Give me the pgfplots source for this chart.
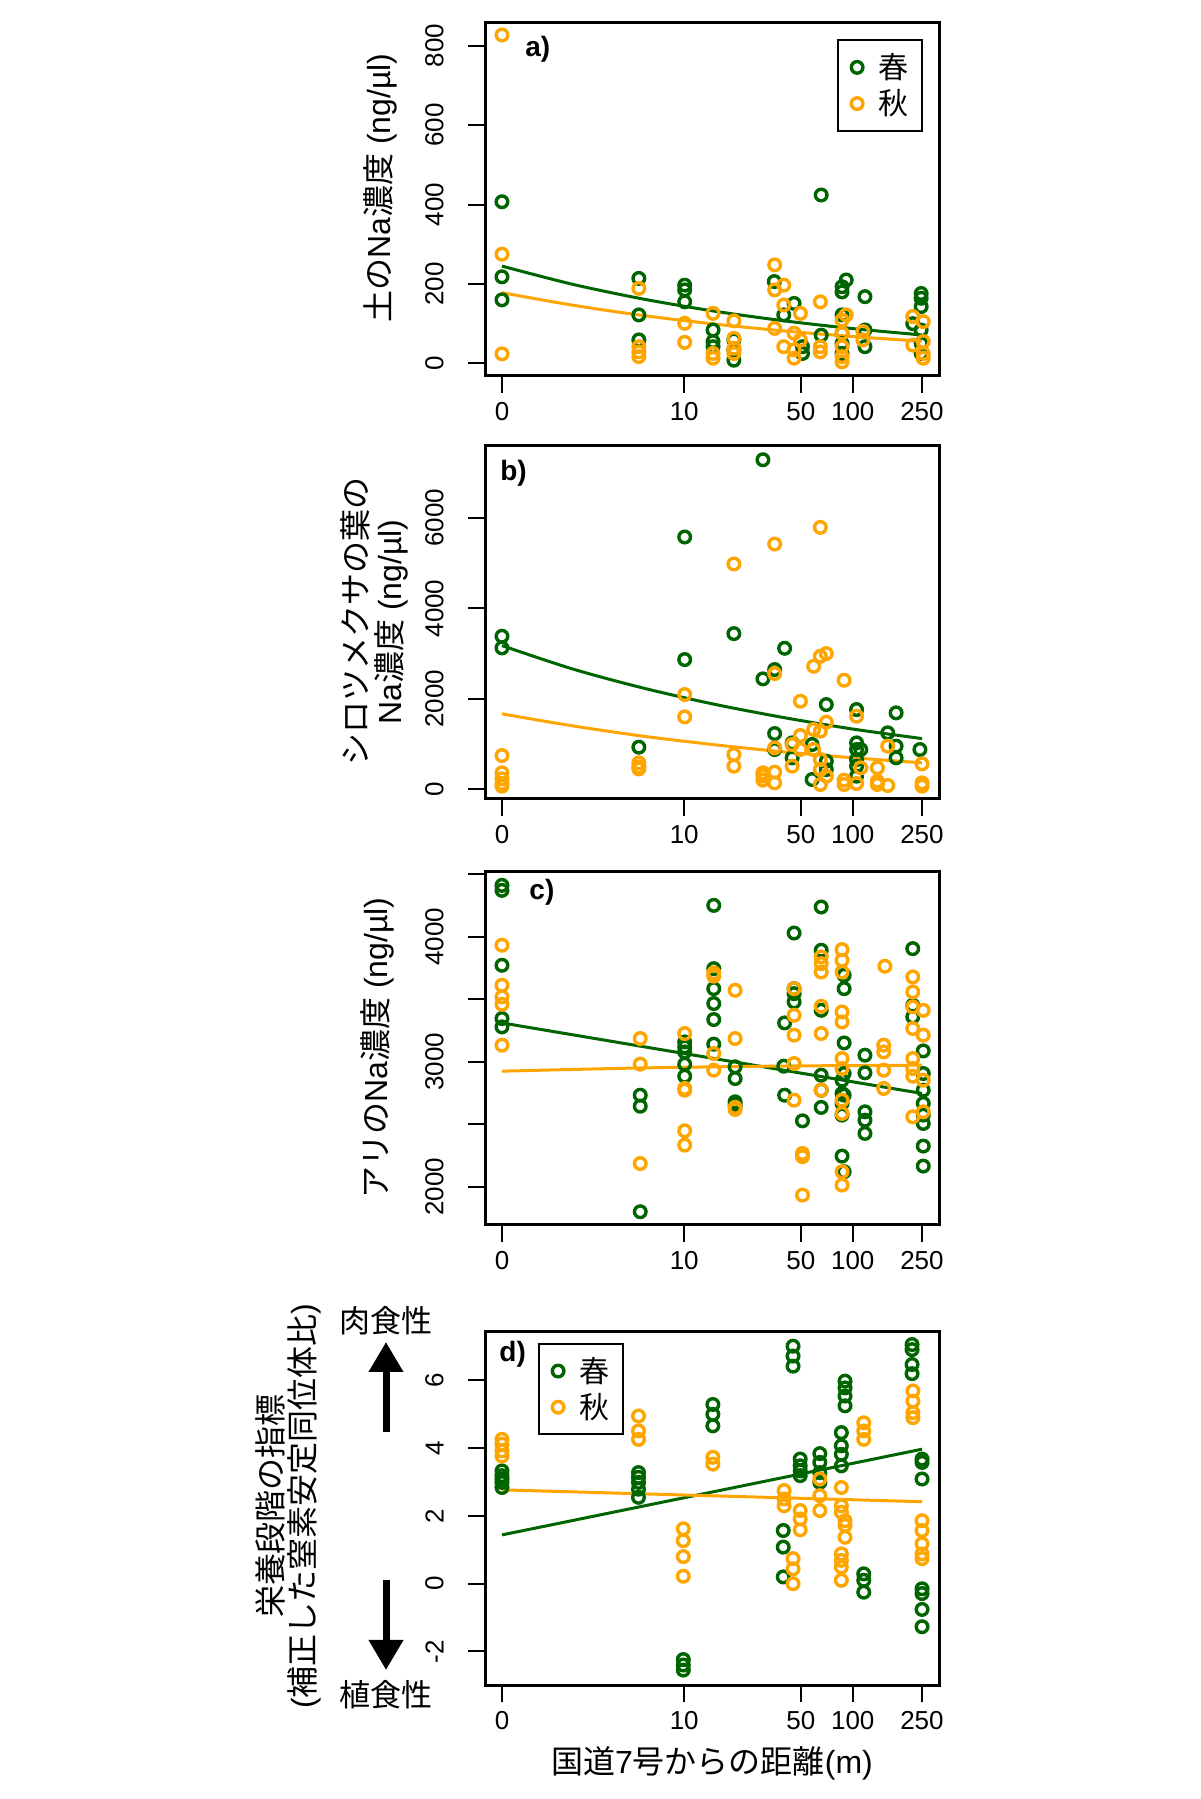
\documentclass[border=0pt]{standalone}
\usepackage{pgfplots}
\pgfplotsset{compat=1.18}
\usepackage{fontspec}
\setmainfont{Liberation Sans}
\newfontfamily\jp{Noto Sans CJK JP}
\usetikzlibrary{arrows.meta}
\definecolor{sp}{RGB}{0,100,0}
\definecolor{au}{RGB}{255,165,0}
\pgfplotsset{
  myax/.style={
    scale only axis, width=227pt, height=176.5pt, anchor=south west,
    xmin=-0.097, xmax=2.497,
    xtick={0,1.0414,1.7076,2.0043,2.3997},
    xticklabels={0,10,50,100,250},
    tick pos=left, tick align=outside, major tick length=8.5pt,
    tick style={line width=1pt, black},
    axis line style={line width=1.5pt},
    every tick label/.append style={font=\fontsize{13}{13}\selectfont},
    xticklabel style={anchor=north, inner sep=0pt, yshift=-4.5pt},
    yticklabel style={xshift=-12pt, rotate=90, anchor=south, inner sep=0pt},
    legend style={draw=black, line width=1pt, inner xsep=5pt, inner ysep=4.5pt,
      font=\fontsize{15}{15}\selectfont\jp, nodes={inner sep=2pt},
      /tikz/every even column/.append style={column sep=1pt}},
    legend cell align=left,
    legend image code/.code={\path (-4pt,0pt) (8pt,0pt); \draw[#1, only marks] plot coordinates {(0pt,0pt)};},
  },
  spm/.style={only marks, mark=o, mark size=2.9pt, color=sp, mark options={line width=1.7pt}},
  aum/.style={only marks, mark=o, mark size=2.9pt, color=au, mark options={line width=1.7pt}},
  spl/.style={no marks, color=sp, line width=1.5pt, forget plot},
  aul/.style={no marks, color=au, line width=1.5pt, forget plot},
}
\begin{document}
\begin{tikzpicture}
\path[use as bounding box] (0,0) rectangle (600pt,899.5pt);
% ---------------- a ----------------
\begin{axis}[myax, at={(242.5pt,711.65pt)},
  ymin=-31, ymax=858, ytick={0,200,400,600,800}, yticklabels={0,200,400,600,800},
  legend style={at={(0.965,0.953)}, anchor=north east}]
\addplot[spm] coordinates {
(0,407)(0,218)(0,160)
(0.782,214)(0.782,122)(0.782,59)
(1.044,197)(1.044,185)(1.044,155)
(1.206,84)(1.206,55)(1.206,42)
(1.325,59)(1.325,34)(1.325,8)
(1.556,206)
(1.669,151)(1.610,122)(1.717,42)(1.717,25)
(1.824,424)(1.824,71)
(1.943,193)(1.943,180)(1.943,122)(1.943,76)(1.943,50)(1.943,25)
(1.967,210)
(2.074,168)(2.074,84)(2.074,42)
(2.395,176)(2.395,164)(2.395,143)(2.395,84)(2.395,50)(2.395,25)
(2.347,100)};
\addlegendentry{春}
\addplot[aum] coordinates {
(0,827)(0,275)(0,24)
(0.782,189)(0.782,42)(0.782,29)(0.782,17)
(1.044,101)(1.044,53)
(1.206,126)(1.206,25)(1.206,13)
(1.325,107)(1.325,63)(1.325,38)(1.325,25)
(1.558,248)(1.558,185)(1.558,88)
(1.610,197)(1.610,147)(1.610,42)
(1.669,76)(1.669,34)(1.669,13)
(1.705,126)(1.705,59)
(1.819,155)(1.819,42)(1.819,29)
(1.943,109)(1.943,76)(1.943,42)(1.943,17)(1.943,4)(1.967,122)
(2.062,80)(2.062,59)
(2.347,118)(2.347,46)
(2.407,105)(2.407,55)(2.407,25)(2.407,13)};
\addlegendentry{秋}
\addplot[spl, smooth] coordinates {(0,245)(0.4,199.5)(0.8,162.6)(1.2,132.4)(1.6,107.8)(2.0,87.8)(2.4,71.5)};
\addplot[aul, smooth] coordinates {(0,178)(0.4,146.8)(0.8,120.9)(1.2,99.7)(1.6,82.2)(2.0,67.7)(2.4,55.8)};
\node[anchor=west, font=\fontsize{14}{14}\selectfont\bfseries, inner sep=0pt] at (rel axis cs:0.088,0.924) {a)};
\end{axis}
% ---------------- b ----------------
\begin{axis}[myax, at={(242.5pt,500pt)},
  ymin=-210, ymax=7590, ytick={0,2000,4000,6000}, yticklabels={0,2000,4000,6000}]
\addplot[spm] coordinates {
(0,3386)(0,3128)
(0.782,935)
(1.044,5579)(1.044,2870)
(1.325,3444)
(1.491,7286)(1.491,2444)
(1.558,2650)(1.558,1236)(1.558,883)
(1.615,3120)
(1.658,1030)(1.658,700)
(1.772,220)(1.772,994)
(1.853,1877)(1.853,625)(1.853,440)
(2.026,1766)(2.026,1030)(2.026,883)(2.026,662)(2.026,515)(2.026,294)
(2.050,883)
(2.204,1251)
(2.252,1693)(2.252,957)(2.252,700)
(2.388,883)};
\addplot[aum] coordinates {
(0,750)(0,368)(0,235)(0,132)(0,74)
(0.782,589)(0.782,500)(0.782,456)
(1.044,2098)(1.044,1604)
(1.325,4983)(1.325,773)(1.325,515)
(1.491,368)(1.491,294)(1.491,206)
(1.558,5424)(1.558,2561)(1.558,383)(1.558,147)(1.558,920)
(1.658,515)(1.658,994)
(1.705,1950)(1.705,1192)(1.705,883)
(1.781,2723)(1.781,1325)(1.781,883)
(1.819,5792)(1.819,2944)(1.819,1288)(1.819,662)(1.819,440)(1.819,110)
(1.853,3003)(1.853,1487)(1.853,294)
(1.955,2414)(1.955,206)(1.955,110)
(2.026,1619)(2.026,132)
(2.050,478)
(2.145,478)(2.145,184)(2.145,110)
(2.204,957)(2.204,88)
(2.400,567)(2.400,147)(2.400,74)};
\addplot[spl, smooth] coordinates {(0,3180)(0.4,2667)(0.8,2248)(1.2,1894)(1.6,1596)(2.0,1338)(2.4,1125)};
\addplot[aul, smooth] coordinates {(0,1671)(0.4,1408)(0.8,1181)(1.2,995)(1.6,834)(2.0,702)(2.4,590)};
\node[anchor=west, font=\fontsize{14}{14}\selectfont\bfseries, inner sep=0pt] at (rel axis cs:0.033,0.924) {b)};
\end{axis}
% ---------------- c ----------------
\begin{axis}[myax, at={(242.5pt,287pt)},
  ymin=1694, ymax=4517, ytick={2000,2500,3000,3500,4000,4500}, yticklabels={2000,,3000,,4000,}]
\addplot[spm] coordinates {
(0,4410)(0,4370)(0,3771)(0,3345)(0,3278)
(0.790,2732)(0.790,2644)(0.790,1800)
(1.044,3158)(1.044,3118)(1.044,3078)(1.044,2980)(1.044,2884)
(1.210,4250)(1.210,3744)(1.210,3584)(1.210,3465)(1.210,3337)(1.210,3140)
(1.332,2959)(1.332,2865)(1.332,2679)(1.332,2652)
(1.615,3310)(1.615,2732)(1.610,2964)
(1.669,4029)(1.669,3584)(1.669,3544)(1.669,3478)
(1.717,2527)
(1.824,4237)(1.824,3891)(1.824,3411)(1.824,2892)(1.824,2772)(1.824,2634)
(1.955,3691)(1.955,3584)(1.955,3150)(1.943,2852)(1.943,2746)(1.943,2666)(1.943,2573)(1.943,2245)(1.955,2120)(1.955,2905)(1.955,2732)
(2.074,3052)(2.074,2911)(2.074,2599)(2.074,2532)(2.074,2426)
(2.347,3904)(2.347,3451)(2.347,3358)
(2.407,3086)(2.407,2905)(2.407,2772)(2.407,2666)(2.407,2573)(2.407,2506)(2.407,2325)(2.407,2165)};
\addplot[aum] coordinates {
(0,3931)(0,3611)(0,3518)(0,3459)(0,3132)
(0.790,3185)(0.790,2980)(0.790,2186)
(1.044,3225)(1.044,2786)(1.044,2772)(1.044,2447)(1.044,2333)
(1.210,3710)(1.210,3684)(1.210,3065)(1.210,2932)
(1.332,3571)(1.332,3185)(1.332,2634)(1.332,2618)
(1.669,3584)(1.669,3371)(1.669,3212)(1.669,2985)(1.669,2692)
(1.717,2266)(1.717,2240)(1.717,1933)
(1.824,3838)(1.824,3784)(1.824,3717)(1.824,3443)(1.824,3225)(1.824,2772)
(1.943,3896)(1.943,3811)(1.943,3717)(1.943,3318)(1.943,3025)(1.943,2945)(1.943,2586)(1.943,2120)(1.943,2013)(1.943,3398)(1.943,2692)
(2.188,3763)(2.181,3132)(2.181,3078)(2.181,2932)(2.181,2786)
(2.347,3678)(2.347,3558)(2.347,3438)(2.347,3265)(2.347,3025)(2.347,2945)(2.347,2884)(2.347,2559)
(2.407,3411)(2.407,3212)(2.407,2852)(2.407,2599)};
\addplot[spl] coordinates {(0,3310)(1.2,3028)(2.4,2746)};
\addplot[aul, smooth] coordinates {(0,2924)(0.8,2950)(1.6,2965)(2.4,2972)};
\node[anchor=west, font=\fontsize{14}{14}\selectfont\bfseries, inner sep=0pt] at (rel axis cs:0.097,0.943) {c)};
\end{axis}
% ---------------- d ----------------
\begin{axis}[myax, at={(242.5pt,57pt)},
  ymin=-2.99, ymax=7.43, ytick={-2,0,2,4,6}, yticklabels={-2,0,2,4,6},
  legend style={at={(0.117,0.969)}, anchor=north west}]
\addplot[spm] coordinates {
(0,3.33)(0,3.19)(0,3.09)(0,2.99)(0,2.84)
(0.780,3.28)(0.780,3.14)(0.780,2.99)(0.780,2.79)(0.780,2.55)
(1.036,-2.24)(1.036,-2.40)(1.036,-2.55)
(1.205,5.29)(1.205,5.00)(1.205,4.66)
(1.607,1.57)(1.607,1.08)(1.607,0.20)
(1.663,7.01)(1.663,6.72)(1.663,6.42)
(1.704,3.68)(1.704,3.48)(1.704,3.33)(1.704,3.19)
(1.816,3.84)(1.816,3.58)(1.816,3.28)(1.816,2.99)
(1.939,4.46)(1.939,4.07)(1.939,3.82)(1.939,3.48)
(1.960,5.98)(1.960,5.78)(1.960,5.54)(1.960,5.25)
(2.067,0.29)(2.067,0.10)(2.067,-0.25)
(2.343,7.06)(2.343,6.91)(2.343,6.47)(2.343,6.20)
(2.400,3.68)(2.400,3.58)(2.400,3.09)(2.400,-0.15)(2.400,-0.29)(2.400,-0.76)(2.400,-1.27)};
\addlegendentry{春}
\addplot[aum] coordinates {
(0,4.26)(0,4.12)(0,3.92)(0,3.77)
(0.780,4.95)(0.780,4.51)(0.780,4.26)
(1.036,1.62)(1.036,1.27)(1.036,0.80)(1.036,0.22)
(1.205,3.73)(1.205,3.53)
(1.612,2.75)(1.612,2.50)(1.612,2.30)
(1.663,0.74)(1.663,0.44)(1.663,0.00)
(1.704,2.16)(1.704,1.91)(1.704,1.59)
(1.816,3.09)(1.816,2.60)(1.816,2.16)
(1.939,2.84)(1.939,2.30)(1.939,2.11)(1.939,0.88)(1.939,0.69)(1.939,0.49)(1.939,0.10)
(1.960,1.86)(1.960,1.72)(1.960,1.37)
(2.067,4.75)(2.067,4.51)(2.067,4.26)
(2.348,5.69)(2.348,5.39)(2.348,5.05)(2.348,4.90)
(2.400,1.86)(2.400,1.57)(2.400,1.18)(2.400,0.88)(2.400,0.74)};
\addlegendentry{秋}
\addplot[spl] coordinates {(0,1.44)(1.2,2.705)(2.4,3.97)};
\addplot[aul] coordinates {(0,2.77)(1.2,2.595)(2.4,2.42)};
\node[anchor=west, font=\fontsize{14}{14}\selectfont\bfseries, inner sep=0pt] at (rel axis cs:0.031,0.938) {d)};
\end{axis}
% ---------------- labels ----------------
\node[rotate=90, font=\fontsize{16}{17}\selectfont] at (190pt,805.5pt) {{\jp 土の}Na{\jp 濃度} (ng/µl)};
\node[rotate=90, align=center, font=\fontsize{16}{17}\selectfont] at (187pt,588.5pt) {{\jp シロツメクサの葉の}\\Na{\jp 濃度} (ng/µl)};
\node[rotate=90, font=\fontsize{16}{17}\selectfont] at (188.5pt,375.5pt) {{\jp アリの}Na{\jp 濃度} (ng/µl)};
\node[rotate=90, align=center, font=\fontsize{16}{16}\selectfont] at (144pt,146.5pt) {{\jp 栄養段階の指標}\\({\jp 補正した窒素安定同位体比})};
\node[font=\fontsize{15.5}{15.5}\selectfont\jp] at (193pt,239pt) {肉食性};
\node[font=\fontsize{15.5}{15.5}\selectfont\jp] at (193pt,52pt) {植食性};
\draw[line width=3.5pt, -{Triangle[width=16.5pt, length=15pt]}] (193pt,183.5pt) -- (193pt,228.5pt);
\draw[line width=3.5pt, -{Triangle[width=16.5pt, length=15pt]}] (193pt,109.5pt) -- (193pt,64.5pt);
\node[font=\fontsize{16}{16}\selectfont] at (356pt,18pt) {{\jp 国道}7{\jp 号からの距離}(m)};
\end{tikzpicture}
\end{document}
